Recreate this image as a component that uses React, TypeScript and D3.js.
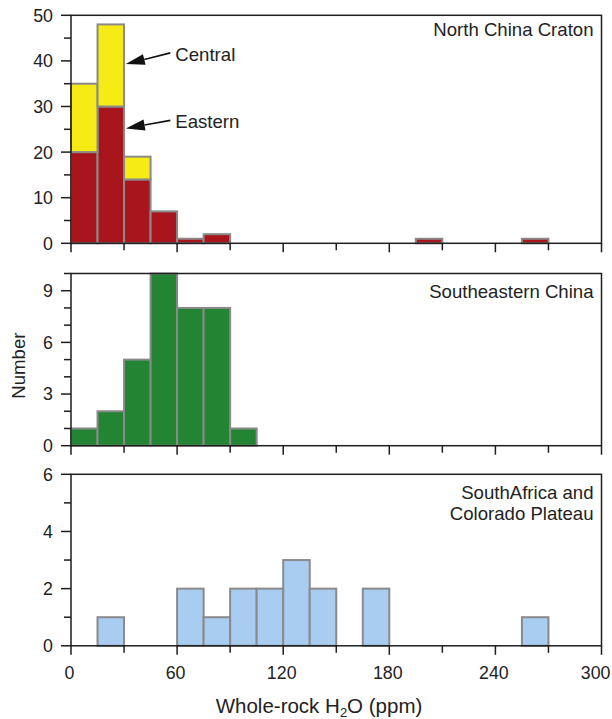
import React from "react";
import * as d3 from "d3";

// ---------- data ----------
const binStarts = d3.range(0, 300, 15); // 15 ppm bins, 0..285
const binWidth = 15;

// North China Craton (stacked: Eastern bottom, Central on top)
const eastern = [20, 30, 14, 7, 1, 2, 0, 0, 0, 0, 0, 0, 0, 1, 0, 0, 0, 1, 0, 0];
const central = [15, 18, 5, 0, 0, 0, 0, 0, 0, 0, 0, 0, 0, 0, 0, 0, 0, 0, 0, 0];

// Southeastern China
const southeastern = [1, 2, 5, 10, 8, 8, 1, 0, 0, 0, 0, 0, 0, 0, 0, 0, 0, 0, 0, 0];

// South Africa and Colorado Plateau
const saColorado = [0, 1, 0, 0, 2, 1, 2, 2, 3, 2, 0, 2, 0, 0, 0, 0, 0, 1, 0, 0];

const xTicks = d3.range(0, 301, 30);
const xTickLabels = [0, 60, 120, 180, 240, 300];

const annotations = [
  { label: "Central", tipX: 31, tipY: 39.3, textX: 59, textY: 40 },
  { label: "Eastern", tipX: 31, tipY: 25.2, textX: 59, textY: 25.2 },
];

// ---------- styles ----------
const FONT = "'Liberation Sans', Arial, Helvetica, sans-serif";
const AXIS = "#1e1e1e";
const BAR_STROKE = "#8a8a8a";
const YELLOW = "#f6eb14";
const RED = "#a8151c";
const GREEN = "#238434";
const BLUE = "#a8cdf1";

const x = d3.scaleLinear().domain([0, 300]).range([71, 601.5]);

type Panel = {
  y: d3.ScaleLinear<number, number>;
  ticks: number[];
  labels: number[];
  title: string[];
  titleY: number;
};

const yTop = d3.scaleLinear().domain([0, 50]).range([243.3, 15.3]);
const yMid = d3.scaleLinear().domain([0, 10]).range([445.7, 273.5]);
const yBot = d3.scaleLinear().domain([0, 6]).range([645.8, 474.3]);

const panels: Panel[] = [
  { y: yTop, ticks: d3.range(0, 51, 5), labels: [0, 10, 20, 30, 40, 50], title: ["North China Craton"], titleY: 35.7 },
  { y: yMid, ticks: d3.range(0, 11, 1), labels: [0, 3, 6, 9], title: ["Southeastern China"], titleY: 298.3 },
  { y: yBot, ticks: d3.range(0, 7, 1), labels: [0, 2, 4, 6], title: ["SouthAfrica and", "Colorado Plateau"], titleY: 499.3 },
];

function Bars({ counts, base, y, fill }: { counts: number[]; base?: number[]; y: d3.ScaleLinear<number, number>; fill: string }) {
  return (
    <g>
      {counts.map((c, i) => {
        if (c <= 0) return null;
        const b = base ? base[i] : 0;
        const x0 = x(binStarts[i]);
        const x1 = x(binStarts[i] + binWidth);
        const yTopPx = y(b + c);
        const yBase = y(b);
        return (
          <rect
            key={i}
            x={x0}
            y={yTopPx}
            width={x1 - x0}
            height={yBase - yTopPx}
            fill={fill}
            stroke={BAR_STROKE}
            strokeWidth={2}
          />
        );
      })}
    </g>
  );
}

function Frame({ p, showXLabels }: { p: Panel; showXLabels: boolean }) {
  const [y0, y1] = p.y.range();
  const [xl, xr] = x.range();
  return (
    <g>
      <rect x={xl} y={y1} width={xr - xl} height={y0 - y1} fill="none" stroke={AXIS} strokeWidth={1.5} />
      {p.ticks.map((t) => {
        const major = p.labels.includes(t);
        const len = major ? 10 : 7;
        return (
          <line key={"yt" + t} x1={xl - len} x2={xl} y1={p.y(t)} y2={p.y(t)} stroke={AXIS} strokeWidth={1.5} />
        );
      })}
      {p.labels.map((t) => (
        <text
          key={"yl" + t}
          x={xl - 18}
          y={p.y(t)}
          dy="0.36em"
          textAnchor="end"
          fontSize={17.8}
          fill="#222"
        >
          {t}
        </text>
      ))}
      {xTicks.map((t) => {
        const major = xTickLabels.includes(t);
        const len = major ? 9 : 7;
        return <line key={"xt" + t} x1={x(t)} x2={x(t)} y1={y0} y2={y0 + len} stroke={AXIS} strokeWidth={1.5} />;
      })}
      {showXLabels &&
        xTickLabels.map((t, i) => {
          const last = i === xTickLabels.length - 1;
          return (
            <text
              key={"xl" + t}
              x={last ? 610.5 : x(t) - 1.5}
              y={679.3}
              textAnchor={last ? "end" : "middle"}
              fontSize={17.8}
              fill="#222"
            >
              {t}
            </text>
          );
        })}
      {p.title.map((line, i) => (
        <text key={"ti" + i} x={593.5} y={p.titleY + i * 21} textAnchor="end" fontSize={18.6} fill="#222">
          {line}
        </text>
      ))}
    </g>
  );
}

function Arrow({ a }: { a: (typeof annotations)[number] }) {
  const tx = x(a.tipX);
  const ty = yTop(a.tipY);
  const sx = x(a.textX) - 5;
  const sy = yTop(a.textY) - 8;
  const ang = Math.atan2(sy - ty, sx - tx);
  const headLen = 19;
  const halfW = 5.5;
  const bx = tx + headLen * Math.cos(ang);
  const by = ty + headLen * Math.sin(ang);
  const px = -Math.sin(ang) * halfW;
  const py = Math.cos(ang) * halfW;
  const head = `M${tx},${ty} L${bx + px},${by + py} L${bx - px},${by - py} Z`;
  return (
    <g>
      <line x1={bx} y1={by} x2={sx} y2={sy} stroke="#111" strokeWidth={1.6} />
      <path d={head} fill="#111" />
      <text x={x(a.textX)} y={yTop(a.textY)} fontSize={18.6} fill="#222">
        {a.label}
      </text>
    </g>
  );
}

export default function App() {
  return (
    <svg
      width={612}
      height={719}
      viewBox="0 0 612 719"
      style={{ position: "absolute", left: 0, top: 0, background: "#fff" }}
      fontFamily={FONT}
    >
      <rect x={0} y={0} width={612} height={719} fill="#fff" />
      {/* top panel */}
      <Bars counts={eastern} y={yTop} fill={RED} />
      <Bars counts={central} base={eastern} y={yTop} fill={YELLOW} />
      {/* middle panel */}
      <Bars counts={southeastern} y={yMid} fill={GREEN} />
      {/* bottom panel */}
      <Bars counts={saColorado} y={yBot} fill={BLUE} />

      {panels.map((p, i) => (
        <Frame key={i} p={p} showXLabels={i === 2} />
      ))}

      {annotations.map((a) => (
        <Arrow key={a.label} a={a} />
      ))}

      <text x={319} y={712.7} textAnchor="middle" fontSize={20.5} fill="#222">
        Whole-rock H
        <tspan fontSize={13} dy={4}>
          2
        </tspan>
        <tspan dy={-4}>O (ppm)</tspan>
      </text>
      <text
        transform={`translate(25, ${(yMid.range()[0] + yMid.range()[1]) / 2 + 6}) rotate(-90)`}
        textAnchor="middle"
        fontSize={18.6}
        fill="#222"
      >
        Number
      </text>
    </svg>
  );
}
